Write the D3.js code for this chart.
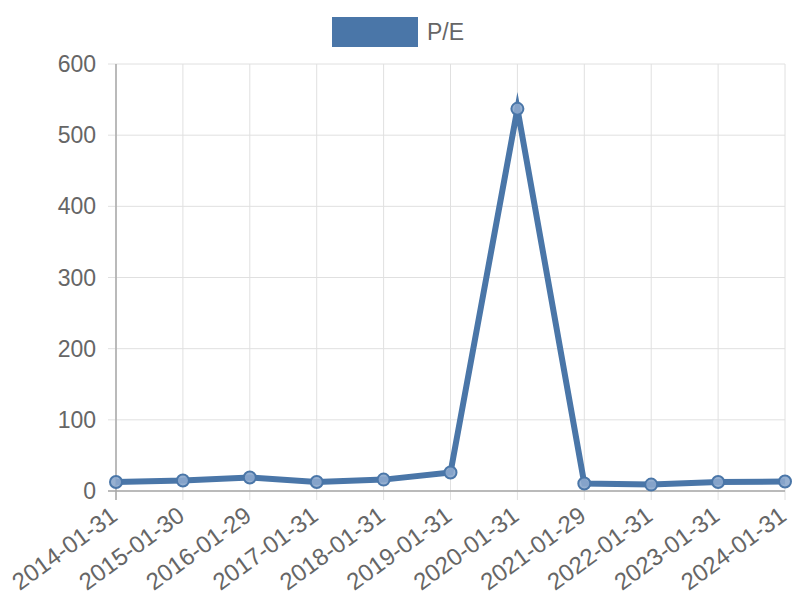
<!DOCTYPE html>
<html><head><meta charset="utf-8">
<script src="https://cdn.jsdelivr.net/npm/d3@7"></script>
<style>body{margin:0;background:#fff}svg{display:block}text{font-family:"Liberation Sans",Arial,sans-serif}</style>
</head><body>
<script>
const categories = ["2014-01-31","2015-01-30","2016-01-29","2017-01-31","2018-01-31","2019-01-31","2020-01-31","2021-01-29","2022-01-31","2023-01-31","2024-01-31"];
const peValues = [12.6, 14.7, 19, 12.6, 16, 26, 537, 10.5, 9, 12.6, 13.3];
const yTicks = [0, 100, 200, 300, 400, 500, 600];
const seriesName = "P/E";

const W = 800, H = 600;
const m = {left: 116, right: 15, top: 64, bottom: 109};
const color = "#4a76a8";
const svg = d3.select("body").append("svg").attr("width", W).attr("height", H);

const x = d3.scalePoint().domain(categories).range([m.left, W - m.right]);
const y = d3.scaleLinear().domain([0, 600]).range([H - m.bottom, m.top]);

// grid
const g = svg.append("g");
g.selectAll(".hg").data(yTicks).join("line")
  .attr("x1", m.left - 8).attr("x2", W - m.right)
  .attr("y1", d => y(d)).attr("y2", d => y(d))
  .attr("stroke", "#e0e0e0").attr("stroke-width", 1);
g.selectAll(".vg").data(categories).join("line")
  .attr("x1", d => x(d)).attr("x2", d => x(d))
  .attr("y1", m.top).attr("y2", H - m.bottom + 9)
  .attr("stroke", "#e0e0e0").attr("stroke-width", 1);

// axes lines
svg.append("line").attr("x1", m.left).attr("x2", m.left).attr("y1", m.top).attr("y2", H - m.bottom + 9)
  .attr("stroke", "#a8a8a8").attr("stroke-width", 1.5);
svg.append("line").attr("x1", m.left - 8).attr("x2", W - m.right).attr("y1", y(0)).attr("y2", y(0))
  .attr("stroke", "#a8a8a8").attr("stroke-width", 1.5);

// y labels
svg.selectAll(".yl").data(yTicks).join("text")
  .attr("x", m.left - 20).attr("y", d => y(d)).attr("dy", "0.35em")
  .attr("text-anchor", "end").attr("fill", "#666").attr("font-size", 23)
  .text(d => d);

// x labels
svg.selectAll(".xl").data(categories).join("text")
  .attr("transform", d => `translate(${x(d) - 7},${H - m.bottom + 14}) rotate(-36)`)
  .attr("text-anchor", "end").attr("dy", "0.72em").attr("fill", "#666").attr("font-size", 24)
  .text(d => d);

// line
const data = categories.map((c, i) => ({c, v: peValues[i]}));
svg.append("path").datum(data)
  .attr("d", d3.line().x(d => x(d.c)).y(d => y(d.v)))
  .attr("fill", "none").attr("stroke", color).attr("stroke-width", 6)
  .attr("stroke-linejoin", "miter").attr("stroke-miterlimit", 10);

svg.selectAll(".pt").data(data).join("circle")
  .attr("cx", d => x(d.c)).attr("cy", d => y(d.v)).attr("r", 6)
  .attr("fill", "rgba(140,168,205,0.9)").attr("stroke", color).attr("stroke-width", 2);

// legend
svg.append("rect").attr("x", 332).attr("y", 17).attr("width", 86).attr("height", 30).attr("fill", color);
svg.append("text").attr("x", 427).attr("y", 32).attr("dy", "0.35em").attr("fill", "#666").attr("font-size", 23).text(seriesName);
</script>
</body></html>
